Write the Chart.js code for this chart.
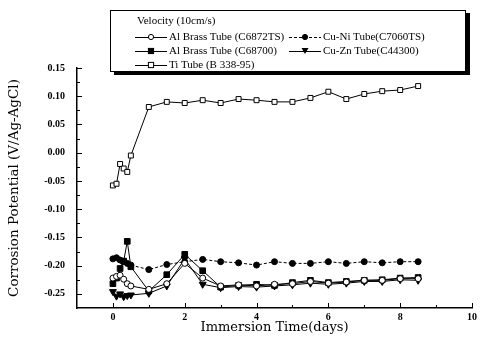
<!DOCTYPE html>
<html lang="en">
<head>
    <meta charset="UTF-8">
    <title>Corrosion Potential vs Immersion Time</title>
    <script src="https://cdn.jsdelivr.net/npm/chart.js"></script>
    <style>
        body { margin: 0; background: #fff; }
        #wrap { position: relative; width: 481px; height: 343px; }
        #legend {
            position: absolute; left: 110px; top: 10px; width: 354px; height: 60px;
            border: 1px solid #000; box-shadow: 4px 3px 0 #000; background: #fff;
            font-family: "Liberation Serif", serif; font-size: 11px; color: #000;
        }
        #legend .head { position: absolute; left: 26px; top: 3px; }
        #legend .item { position: absolute; white-space: nowrap; line-height: 12px; }
        #legend svg { vertical-align: middle; margin-right: 2px; }
    </style>
</head>
<body>
<div id="wrap">
    <canvas id="chart"></canvas>
    <div id="legend"><div class="head">Velocity (10cm/s)</div></div>
</div>
<script>
// immersion time (days)
var days = [0, 0.1, 0.2, 0.3, 0.4, 0.5, 1, 1.5, 2, 2.5, 3, 3.5, 4, 4.5, 5, 5.5, 6, 6.5, 7, 7.5, 8, 8.5];

// corrosion potential (V/Ag-AgCl)
var alBrassC6872TS = [-0.222, -0.219, -0.217, -0.224, -0.232, -0.236, -0.242, -0.232, -0.196, -0.222, -0.236,
    -0.234, -0.236, -0.233, -0.232, -0.228, -0.231, -0.229, -0.226, -0.226, -0.223, -0.223];
var alBrassC68700 = [-0.232, -0.222, -0.205, -0.192, -0.157, -0.202, -0.245, -0.216, -0.180, -0.209, -0.238,
    -0.235, -0.233, -0.235, -0.230, -0.226, -0.230, -0.228, -0.226, -0.225, -0.222, -0.221];
var tiB338 = [-0.058, -0.055, -0.020, -0.028, -0.034, -0.005, 0.081, 0.090, 0.088, 0.093, 0.088,
    0.095, 0.093, 0.090, 0.090, 0.097, 0.108, 0.095, 0.104, 0.109, 0.111, 0.118];
var cuNiC7060TS = [-0.188, -0.186, -0.190, -0.193, -0.196, -0.199, -0.207, -0.198, -0.193, -0.189, -0.193,
    -0.195, -0.199, -0.193, -0.196, -0.196, -0.193, -0.196, -0.193, -0.195, -0.193, -0.193];
var cuZnC44300 = [-0.246, -0.254, -0.250, -0.255, -0.253, -0.252, -0.249, -0.236, -0.188, -0.233, -0.239,
    -0.237, -0.238, -0.236, -0.234, -0.231, -0.233, -0.231, -0.228, -0.228, -0.225, -0.226];

var xTicks = [0, 2, 4, 6, 8, 10];
var yTicks = [-0.25, -0.20, -0.15, -0.10, -0.05, 0.00, 0.05, 0.10, 0.15];

function pts(vals) {
    return days.map(function (d, i) { return { x: d, y: vals[i] }; });
}

function serie(label, vals, style, fill, dash, rot, radius) {
    return {
        label: label,
        data: pts(vals),
        borderColor: '#000',
        borderWidth: 1,
        borderDash: dash,
        pointStyle: style,
        pointRotation: rot,
        pointRadius: radius,
        pointBorderWidth: 1,
        pointBorderColor: '#000',
        pointBackgroundColor: fill ? '#000' : '#fff',
        tension: 0
    };
}

var datasets = [
    serie('Al Brass Tube (C6872TS)', alBrassC6872TS, 'circle', false, [], 0, 3),
    serie('Al Brass Tube (C68700)', alBrassC68700, 'rect', true, [], 0, 4),
    serie('Ti Tube (B 338-95)', tiB338, 'rect', false, [], 0, 3.5),
    serie('Cu-Ni Tube(C7060TS)', cuNiC7060TS, 'circle', true, [3, 2], 0, 3),
    serie('Cu-Zn Tube(C44300)', cuZnC44300, 'triangle', true, [], 180, 4)
];

// inward tick marks, major and minor
var axisTicks = {
    id: 'axisTicks',
    afterDraw: function (chart) {
        var ctx = chart.ctx, a = chart.chartArea, sx = chart.scales.x, sy = chart.scales.y;
        ctx.save();
        ctx.strokeStyle = '#000';
        ctx.lineWidth = 1;
        ctx.beginPath();
        xTicks.forEach(function (v, i) {
            var p = Math.round(sx.getPixelForValue(v)) + 0.5;
            ctx.moveTo(p, a.bottom); ctx.lineTo(p, a.bottom - 5);
            if (i < xTicks.length - 1) {
                var m = Math.round(sx.getPixelForValue((v + xTicks[i + 1]) / 2)) + 0.5;
                ctx.moveTo(m, a.bottom); ctx.lineTo(m, a.bottom - 3);
            }
        });
        yTicks.forEach(function (v, i) {
            var p = Math.round(sy.getPixelForValue(v)) + 0.5;
            ctx.moveTo(a.left, p); ctx.lineTo(a.left + 5, p);
            if (i < yTicks.length - 1) {
                var m = Math.round(sy.getPixelForValue((v + yTicks[i + 1]) / 2)) + 0.5;
                ctx.moveTo(a.left, m); ctx.lineTo(a.left + 3, m);
            }
        });
        ctx.stroke();
        ctx.restore();
    }
};

var tickFont = { family: 'Liberation Serif', size: 10, weight: 'bold' };

new Chart(document.getElementById('chart'), {
    type: 'line',
    data: { datasets: datasets },
    options: {
        responsive: true,
        maintainAspectRatio: false,
        animation: false,
        layout: { padding: { top: 68, right: 9, left: 0, bottom: 0 } },
        plugins: { legend: { display: false }, tooltip: { enabled: false } },
        scales: {
            x: {
                type: 'linear', min: -1, max: 10,
                afterBuildTicks: function (s) { s.ticks = xTicks.map(function (v) { return { value: v }; }); },
                afterFit: function (s) { s.height = 35; },
                grid: { display: false, drawTicks: false },
                border: { display: true, color: '#000', width: 1.5 },
                ticks: { color: '#000', font: tickFont, padding: 3, maxRotation: 0 },
                title: { display: true, text: 'Immersion Time(days)', color: '#000',
                    font: { family: 'DejaVu Serif', size: 13 }, padding: { top: 0, bottom: 8 } }
            },
            y: {
                type: 'linear', min: -0.275, max: 0.15,
                afterBuildTicks: function (s) { s.ticks = yTicks.map(function (v) { return { value: v }; }); },
                afterFit: function (s) { s.width = 77; },
                grid: { display: false, drawTicks: false },
                border: { display: true, color: '#000', width: 1.5 },
                ticks: { color: '#000', font: tickFont, padding: 12, callback: function (v) { return v.toFixed(2); } },
                title: { display: true, text: 'Corrosion Potential (V/Ag-AgCl)', color: '#000',
                    font: { family: 'DejaVu Serif', size: 13.5 }, padding: { top: 6 } }
            }
        }
    },
    plugins: [axisTicks]
});

// legend box: two columns like the original
function sample(ds) {
    var w = 32, h = 10, c = w / 2, r = 2.6, m = '';
    var fill = ds.pointBackgroundColor;
    if (ds.pointStyle === 'circle') m = '<circle cx="' + c + '" cy="5" r="' + r + '" fill="' + fill + '" stroke="#000"/>';
    else if (ds.pointStyle === 'rect') m = '<rect x="' + (c - 2.6) + '" y="2.4" width="5.2" height="5.2" fill="' + fill + '" stroke="#000"/>';
    else m = '<polygon points="' + (c - 3.5) + ',2 ' + (c + 3.5) + ',2 ' + c + ',8" fill="#000"/>';
    var dash = ds.borderDash.length ? ' stroke-dasharray="' + ds.borderDash.join(',') + '"' : '';
    return '<svg width="' + w + '" height="' + h + '"><line x1="0" y1="5.5" x2="' + w + '" y2="5.5" stroke="#000"' + dash + '/>' + m + '</svg>';
}
var slots = [[24, 19], [24, 33], [24, 47], [178, 19], [178, 33]];
var legend = document.getElementById('legend');
datasets.forEach(function (ds, i) {
    var el = document.createElement('div');
    el.className = 'item';
    el.style.left = slots[i][0] + 'px';
    el.style.top = slots[i][1] + 'px';
    el.innerHTML = sample(ds) + ds.label;
    legend.appendChild(el);
});
</script>
</body>
</html>
